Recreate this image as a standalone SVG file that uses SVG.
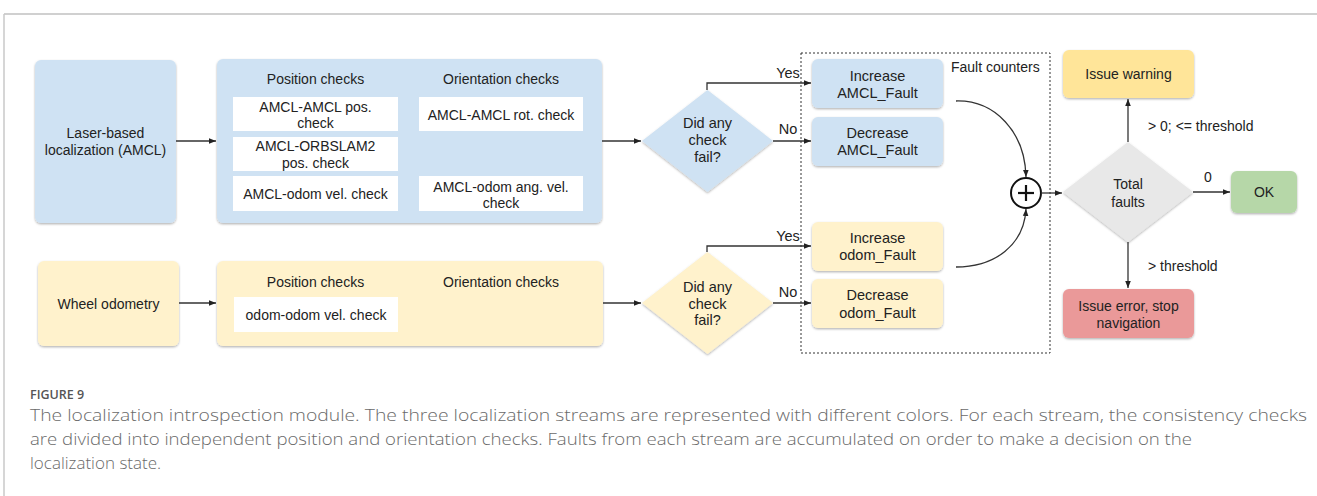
<svg xmlns="http://www.w3.org/2000/svg" width="1317" height="496" viewBox="0 0 1317 496">
<style>
  .t { font-family: "Liberation Sans", Arial, sans-serif; font-size: 14px; fill: #222; text-anchor: middle; }
  .tl { font-family: "Liberation Sans", Arial, sans-serif; font-size: 14px; fill: #222; text-anchor: start; }
  .tb { font-size: 14.5px; }
  .blue { fill: #cfe2f3; }
  .ylw { fill: #fff2cc; }
  .wht { fill: #ffffff; }
  .conn { fill: none; stroke: #333; stroke-width: 1.3; }
  .cap { font-family: "Open Sans", "Noto Sans", sans-serif; font-size: 17px; fill: #6a6a6a; font-weight: 300; }
</style>
<defs>
  <marker id="arr" viewBox="0 0 10 10" refX="10" refY="5" markerWidth="7" markerHeight="7" markerUnits="userSpaceOnUse" orient="auto">
    <path d="M0,1 L10,5 L0,9 z" fill="#222"/>
  </marker>
  <filter id="sh" x="-10%" y="-10%" width="120%" height="130%">
    <feDropShadow dx="0" dy="1.2" stdDeviation="0.9" flood-color="#000" flood-opacity="0.3"/>
  </filter>
</defs>
<rect x="0" y="0" width="1317" height="496" fill="#ffffff"/>
<!-- frame -->
<line x1="4" y1="14" x2="1317" y2="14" stroke="#d0d0d0" stroke-width="2"/>
<line x1="4" y1="14" x2="4" y2="496" stroke="#c8c8c8" stroke-width="1.5"/>

<!-- dashed fault counters box -->
<g id="fault-counters">
  <rect x="801" y="53" width="249" height="300" fill="none" stroke="#333" stroke-width="1" stroke-dasharray="2,2"/>
  <text class="tl" x="951" y="72">Fault counters</text>
</g>

<g id="amcl">
  <rect class="blue" x="35" y="60" width="141" height="163" rx="6" filter="url(#sh)"/>
  <text class="t" x="105.5" y="138">Laser-based</text>
  <text class="t" x="105.5" y="155">localization (AMCL)</text>
</g>

<g id="amcl-checks">
  <rect class="blue" x="217" y="59" width="385" height="164" rx="6" filter="url(#sh)"/>
  <text class="t" x="315.5" y="84">Position checks</text>
  <text class="t" x="501" y="84">Orientation checks</text>
  <rect class="wht" x="233" y="97" width="165" height="34"/>
  <text class="t" x="315.5" y="112">AMCL-AMCL pos.</text>
  <text class="t" x="315.5" y="128">check</text>
  <rect class="wht" x="233" y="137" width="165" height="34"/>
  <text class="t" x="315.5" y="151">AMCL-ORBSLAM2</text>
  <text class="t" x="315.5" y="168">pos. check</text>
  <rect class="wht" x="233" y="176" width="165" height="35"/>
  <text class="t" x="315.5" y="199">AMCL-odom vel. check</text>
  <rect class="wht" x="419" y="97" width="164" height="34"/>
  <text class="t" x="501" y="120">AMCL-AMCL rot. check</text>
  <rect class="wht" x="419" y="176" width="164" height="35"/>
  <text class="t" x="501" y="192">AMCL-odom ang. vel.</text>
  <text class="t" x="501" y="208">check</text>
</g>

<g id="wheel">
  <rect class="ylw" x="38" y="261" width="141" height="85" rx="6" filter="url(#sh)"/>
  <text class="t" x="108.5" y="309">Wheel odometry</text>
</g>

<g id="odom-checks">
  <rect class="ylw" x="217" y="261" width="386" height="85" rx="6" filter="url(#sh)"/>
  <text class="t" x="315.5" y="287">Position checks</text>
  <text class="t" x="501" y="287">Orientation checks</text>
  <rect class="wht" x="234" y="297" width="164" height="35"/>
  <text class="t" x="316" y="320">odom-odom vel. check</text>
</g>

<g id="amcl-decision">
  <polygon points="707.5,90 773,141 707.5,192 642,141" fill="#cfe2f3" filter="url(#sh)"/>
  <text class="t tb" x="707.5" y="128">Did any</text>
  <text class="t tb" x="707.5" y="145">check</text>
  <text class="t tb" x="707.5" y="162">fail?</text>
</g>

<g id="odom-decision">
  <polygon points="707.5,252 773,303 707.5,354 642,303" fill="#fff2cc" filter="url(#sh)"/>
  <text class="t tb" x="707.5" y="292">Did any</text>
  <text class="t tb" x="707.5" y="309">check</text>
  <text class="t tb" x="707.5" y="325">fail?</text>
</g>

<g id="inc-amcl">
  <rect class="blue" x="812" y="59" width="131" height="49" rx="6" filter="url(#sh)"/>
  <text class="t tb" x="877.5" y="81">Increase</text>
  <text class="t tb" x="877.5" y="98">AMCL_Fault</text>
</g>
<g id="dec-amcl">
  <rect class="blue" x="812" y="117" width="131" height="49" rx="6" filter="url(#sh)"/>
  <text class="t tb" x="877.5" y="138">Decrease</text>
  <text class="t tb" x="877.5" y="155">AMCL_Fault</text>
</g>
<g id="inc-odom">
  <rect class="ylw" x="812" y="222" width="131" height="49" rx="6" filter="url(#sh)"/>
  <text class="t tb" x="877.5" y="243">Increase</text>
  <text class="t tb" x="877.5" y="260">odom_Fault</text>
</g>
<g id="dec-odom">
  <rect class="ylw" x="812" y="279" width="131" height="49" rx="6" filter="url(#sh)"/>
  <text class="t tb" x="877.5" y="300">Decrease</text>
  <text class="t tb" x="877.5" y="318">odom_Fault</text>
</g>

<g id="sum">
  <circle cx="1026" cy="193" r="15" fill="#fff" stroke="#111" stroke-width="2"/>
  <line x1="1018" y1="193" x2="1034" y2="193" stroke="#111" stroke-width="2.2"/>
  <line x1="1026" y1="185" x2="1026" y2="201" stroke="#111" stroke-width="2.2"/>
</g>

<g id="total">
  <polygon points="1128,142 1193,192 1128,242 1063,192" fill="#e8e8e8" filter="url(#sh)"/>
  <text class="t" x="1128" y="189">Total</text>
  <text class="t" x="1128" y="207">faults</text>
</g>

<g id="warning">
  <rect x="1063" y="50" width="131" height="48" rx="6" fill="#ffe599" filter="url(#sh)"/>
  <text class="t" x="1128.5" y="79">Issue warning</text>
</g>
<g id="ok">
  <rect x="1231" y="171" width="66" height="42" rx="6" fill="#b6d7a8" filter="url(#sh)"/>
  <text class="t" x="1264" y="197">OK</text>
</g>
<g id="error">
  <rect x="1063" y="289" width="131" height="49" rx="6" fill="#ea9999" filter="url(#sh)"/>
  <text class="t" x="1128.5" y="311">Issue error, stop</text>
  <text class="t" x="1128.5" y="328">navigation</text>
</g>

<g id="connectors">
  <line class="conn" x1="176" y1="141" x2="216" y2="141" marker-end="url(#arr)"/>
  <line class="conn" x1="602" y1="141" x2="641" y2="141" marker-end="url(#arr)"/>
  <line class="conn" x1="179" y1="303" x2="216" y2="303" marker-end="url(#arr)"/>
  <line class="conn" x1="603" y1="303" x2="641" y2="303" marker-end="url(#arr)"/>
  <polyline class="conn" points="707,90 707,83 811,83" marker-end="url(#arr)"/>
  <line class="conn" x1="773" y1="141" x2="811" y2="141" marker-end="url(#arr)"/>
  <polyline class="conn" points="707,252 707,246 811,246" marker-end="url(#arr)"/>
  <line class="conn" x1="773" y1="303" x2="811" y2="303" marker-end="url(#arr)"/>
  <path class="conn" d="M956,101 C995,100 1025,132 1026,177" marker-end="url(#arr)"/>
  <path class="conn" d="M956,267 C995,267 1024,245 1026,209" marker-end="url(#arr)"/>
  <line class="conn" x1="1041" y1="193" x2="1062" y2="193" marker-end="url(#arr)"/>
  <line class="conn" x1="1128" y1="142" x2="1128" y2="99" marker-end="url(#arr)"/>
  <line class="conn" x1="1193" y1="192" x2="1230" y2="192" marker-end="url(#arr)"/>
  <line class="conn" x1="1128" y1="242" x2="1128" y2="288" marker-end="url(#arr)"/>
  <text class="t tb" x="788" y="78">Yes</text>
  <text class="t tb" x="788" y="134">No</text>
  <text class="t tb" x="788" y="241">Yes</text>
  <text class="t tb" x="788" y="297">No</text>
  <text class="tl" x="1148" y="131">&gt; 0; &lt;= threshold</text>
  <text class="t" x="1208" y="182">0</text>
  <text class="tl" x="1148" y="271">&gt; threshold</text>
</g>

<!-- caption -->
<text x="30" y="399" font-family="'Open Sans', 'Noto Sans', sans-serif" font-size="12.5" fill="#555" font-weight="600">FIGURE 9</text>
<text class="cap" x="30" y="421" textLength="1277" lengthAdjust="spacingAndGlyphs">The localization introspection module. The three localization streams are represented with different colors. For each stream, the consistency checks</text>
<text class="cap" x="30" y="445" textLength="1162" lengthAdjust="spacingAndGlyphs">are divided into independent position and orientation checks. Faults from each stream are accumulated on order to make a decision on the</text>
<text class="cap" x="30" y="469">localization state.</text>
</svg>
